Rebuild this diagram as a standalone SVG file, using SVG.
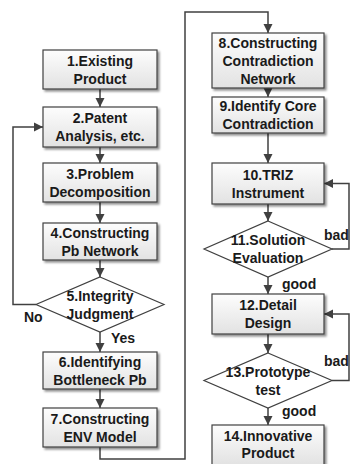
<svg xmlns="http://www.w3.org/2000/svg" width="351" height="464" viewBox="0 0 351 464">
<defs>
<linearGradient id="bg" x1="0" y1="0" x2="0" y2="1">
<stop offset="0" stop-color="#fdfdfd"/>
<stop offset="1" stop-color="#e2e2e2"/>
</linearGradient>
<filter id="sh" x="-10%" y="-10%" width="130%" height="140%">
<feGaussianBlur in="SourceAlpha" stdDeviation="1.2"/>
<feOffset dx="2" dy="2" result="b"/>
<feComponentTransfer><feFuncA type="linear" slope="0.45"/></feComponentTransfer>
<feMerge><feMergeNode/><feMergeNode in="SourceGraphic"/></feMerge>
</filter>
<marker id="ah" markerWidth="10" markerHeight="10" refX="9" refY="5" orient="auto" markerUnits="userSpaceOnUse">
<path d="M0,0.5 L9,5 L0,9.5 Z" fill="#404040"/>
</marker>
</defs>
<style>
.box{fill:url(#bg);stroke:#404040;stroke-width:1.2;filter:url(#sh)}
.dia{fill:#ffffff;stroke:#404040;stroke-width:1.2}
.t{font-family:"Liberation Sans",Arial,sans-serif;font-weight:bold;font-size:14px;fill:#1a1a1a;text-anchor:middle}
.lbl{font-family:"Liberation Sans",Arial,sans-serif;font-weight:bold;font-size:14px;fill:#1a1a1a}
.ca{fill:none;stroke:#404040;stroke-width:1.5;marker-end:url(#ah)}
</style>

<g id="connectors">
<path class="ca" d="M100,89 V107"/>
<path class="ca" d="M100,147 V163"/>
<path class="ca" d="M100,202 V223"/>
<path class="ca" d="M100,260 V277"/>
<path class="ca" d="M100,332 V352"/>
<path class="ca" d="M100,389 V408"/>
<path class="ca" d="M36,304.5 H13 V127 H43"/>
<path class="ca" d="M100,447 V459 H185 V12 H268 V33"/>
<path class="ca" d="M268,88 V97"/>
<path class="ca" d="M268,133 V163"/>
<path class="ca" d="M268,204 V221"/>
<path class="ca" d="M268,277 V294"/>
<path class="ca" d="M268,334 V353"/>
<path class="ca" d="M268,408 V425"/>
<path class="ca" d="M332,249 H349 V183.5 H324"/>
<path class="ca" d="M332,380.5 H349 V314 H324"/>
</g>

<g id="n1"><rect class="box" x="43" y="50" width="114" height="39"/><text class="t" x="100" y="66">1.Existing</text><text class="t" x="100" y="84">Product</text></g>
<g id="n2"><rect class="box" x="43" y="107" width="114" height="40"/><text class="t" x="100" y="123">2.Patent</text><text class="t" x="100" y="141">Analysis, etc.</text></g>
<g id="n3"><rect class="box" x="43" y="163" width="114" height="39"/><text class="t" x="100" y="178.5">3.Problem</text><text class="t" x="100" y="196.5">Decomposition</text></g>
<g id="n4"><rect class="box" x="43" y="223" width="114" height="37"/><text class="t" x="100" y="237.5">4.Constructing</text><text class="t" x="100" y="255.5">Pb Network</text></g>
<g id="n5"><polygon class="dia" points="100,277 164,304.5 100,332 36,304.5"/><text class="t" x="100" y="301">5.Integrity</text><text class="t" x="100" y="319">Judgment</text></g>
<g id="n6"><rect class="box" x="43" y="352" width="114" height="37"/><text class="t" x="100" y="366.5">6.Identifying</text><text class="t" x="100" y="384.5">Bottleneck Pb</text></g>
<g id="n7"><rect class="box" x="43" y="408" width="114" height="39"/><text class="t" x="100" y="423.5">7.Constructing</text><text class="t" x="100" y="441.5">ENV Model</text></g>

<g id="n8"><rect class="box" x="212" y="33" width="112" height="55"/><text class="t" x="268" y="47.5">8.Constructing</text><text class="t" x="268" y="65.5">Contradiction</text><text class="t" x="268" y="83.5">Network</text></g>
<g id="n9"><rect class="box" x="212" y="97" width="112" height="36"/><text class="t" x="268" y="111">9.Identify Core</text><text class="t" x="268" y="129">Contradiction</text></g>
<g id="n10"><rect class="box" x="212" y="163" width="112" height="41"/><text class="t" x="268" y="179.5">10.TRIZ</text><text class="t" x="268" y="197.5">Instrument</text></g>
<g id="n11"><polygon class="dia" points="268,221 332,249 268,277 204,249"/><text class="t" x="268" y="245">11.Solution</text><text class="t" x="268" y="263">Evaluation</text></g>
<g id="n12"><rect class="box" x="212" y="294" width="112" height="40"/><text class="t" x="268" y="310">12.Detail</text><text class="t" x="268" y="328">Design</text></g>
<g id="n13"><polygon class="dia" points="268,353 332,380.5 268,408 204,380.5"/><text class="t" x="268" y="376.5">13.Prototype</text><text class="t" x="268" y="394.5">test</text></g>
<g id="n14"><rect class="box" x="212" y="425" width="112" height="40"/><text class="t" x="268" y="441">14.Innovative</text><text class="t" x="268" y="458">Product</text></g>

<g id="labels">
<text class="lbl" x="24" y="322">No</text>
<text class="lbl" x="111" y="343">Yes</text>
<text class="lbl" x="324" y="240">bad</text>
<text class="lbl" x="282" y="289">good</text>
<text class="lbl" x="324" y="366">bad</text>
<text class="lbl" x="282" y="416">good</text>
</g>
</svg>
